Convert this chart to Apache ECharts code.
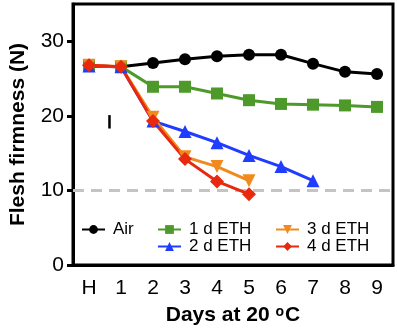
<!DOCTYPE html>
<html>
<head>
<meta charset="utf-8">
<script src="https://cdn.jsdelivr.net/npm/echarts@6/dist/echarts.min.js"></script>
<style>
    html, body { margin: 0; padding: 0; background: #fff; }
    #chart { width: 397px; height: 332px; }
</style>
</head>
<body>
<div id="chart"></div>
<script>
"use strict"

// 横轴天数
const days = ["H", "1", "2", "3", "4", "5", "6", "7", "8", "9"];
// 各处理的硬度数据 (N)
const airData = [26.7, 26.6, 27.1, 27.6, 28.0, 28.2, 28.2, 27.0, 25.9, 25.6];
const eth1Data = [26.7, 26.6, 23.9, 23.9, 23.0, 22.1, 21.6, 21.5, 21.4, 21.2];
const eth2Data = [26.7, 26.6, 19.3, 17.9, 16.4, 14.7, 13.2, 11.3];
const eth3Data = [26.8, 26.6, 19.8, 14.5, 13.2, 11.3];
const eth4Data = [26.8, 26.6, 19.3, 14.2, 11.2, 9.5];
// 纵轴刻度
const yTicks = [0, 10, 20, 30];
// 参考线与LSD竖线
const refValue = 10;
const lsdBar = { pos: 0.64, low: 18.3, high: 20.1 };

const font = "'Liberation Sans', Arial, sans-serif";
const legendText = { fontSize: 17, color: "#000", fontFamily: font, padding: [0, 0, 0, 3] };

function lineSeries(name, data, color, symbol, rotate, size) {
    return {
        name: name,
        type: "line",
        data: data,
        symbol: symbol,
        symbolSize: size,
        symbolRotate: rotate,
        lineStyle: { color: color, width: 3 },
        itemStyle: { color: color },
        z: 2
    };
}

const chart = echarts.init(document.getElementById("chart"));
const option = {
    animation: false,
    textStyle: { fontFamily: font },
    grid: {
        left: 67, right: 4, top: 4, bottom: 67,
        show: true, borderColor: "#000", borderWidth: 3
    },
    legend: [{
        data: ["Air"],
        left: 76, top: 216,
        itemWidth: 23, itemHeight: 11,
        textStyle: legendText
    }, {
        data: ["1 d ETH", "2 d ETH"],
        orient: "vertical",
        left: 152, top: 216,
        itemGap: 0, itemWidth: 23, itemHeight: 11,
        textStyle: legendText
    }, {
        data: ["3 d ETH", "4 d ETH"],
        orient: "vertical",
        left: 270, top: 216,
        itemGap: 0, itemWidth: 23, itemHeight: 11,
        textStyle: legendText
    }],
    xAxis: {
        type: "category",
        data: days,
        boundaryGap: true,
        name: "Days at 20 {sup|o}C",
        nameLocation: "middle",
        nameGap: 40,
        nameTextStyle: {
            fontSize: 21, fontWeight: "bold", color: "#000", fontFamily: font,
            rich: { sup: { fontSize: 14, fontWeight: "bold", verticalAlign: "top", padding: [0, 1, 7, 0] } }
        },
        axisLine: { lineStyle: { color: "#000", width: 3 } },
        axisTick: { alignWithLabel: true, length: 6, lineStyle: { color: "#000", width: 3 } },
        axisLabel: { fontSize: 21, color: "#000", margin: 13, fontFamily: font },
        splitLine: { show: false }
    },
    yAxis: {
        type: "value",
        min: 0, max: 35,
        name: "Flesh firmness (N)",
        nameLocation: "middle",
        nameGap: 44,
        nameTextStyle: { fontSize: 21, fontWeight: "bold", color: "#000", fontFamily: font },
        axisLine: { show: true, lineStyle: { color: "#000", width: 3 } },
        axisTick: { show: true, length: 6, customValues: yTicks, lineStyle: { color: "#000", width: 3 } },
        axisLabel: { fontSize: 21, color: "#000", margin: 9, customValues: yTicks, fontFamily: font },
        splitLine: { show: false }
    },
    series: [
        Object.assign(lineSeries("Air", airData, "#000000", "circle", 0, 12), {
            markLine: {
                silent: true,
                symbol: "none",
                label: { show: false },
                lineStyle: { color: "#c4c4c4", width: 3, type: [11, 7] },
                data: [{ yAxis: refValue }],
                z: 1
            }
        }),
        lineSeries("1 d ETH", eth1Data, "#4d9a2a", "rect", 0, 12),
        lineSeries("2 d ETH", eth2Data, "#1f3cff", "triangle", 0, 13),
        lineSeries("3 d ETH", eth3Data, "#f08a1c", "triangle", 180, 13),
        lineSeries("4 d ETH", eth4Data, "#e8290e", "diamond", 0, 14)
    ]
};
chart.setOption(option);

// LSD 竖线
const p0 = chart.convertToPixel({ xAxisIndex: 0 }, 0);
const p1 = chart.convertToPixel({ xAxisIndex: 0 }, 1);
const bx = p0 + (p1 - p0) * lsdBar.pos;
const yTop = chart.convertToPixel({ yAxisIndex: 0 }, lsdBar.high);
const yBot = chart.convertToPixel({ yAxisIndex: 0 }, lsdBar.low);
chart.setOption({
    graphic: [{
        type: "line",
        shape: { x1: bx, y1: yTop, x2: bx, y2: yBot },
        style: { stroke: "#000", lineWidth: 2.5 }
    }]
});
</script>
</body>
</html>
